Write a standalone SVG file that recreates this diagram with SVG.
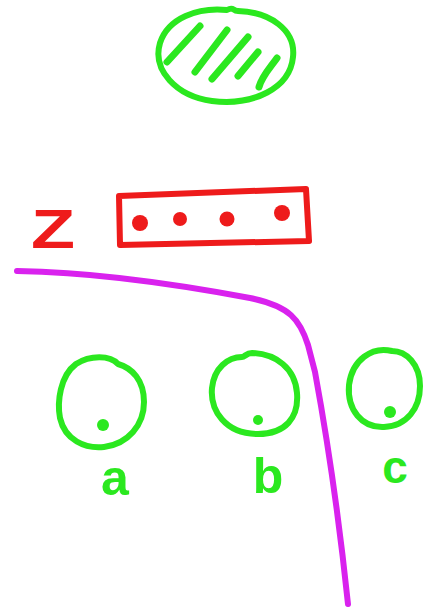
<svg xmlns="http://www.w3.org/2000/svg" width="431" height="609" viewBox="0 0 431 609">
<style>
.g{fill:none;stroke:#2be81f;stroke-width:6;stroke-linecap:round;stroke-linejoin:round}
.gh{fill:none;stroke:#2be81f;stroke-width:7;stroke-linecap:round}
.gd{fill:#2be81f}
.r{fill:none;stroke:#ee1b1b;stroke-width:6;stroke-linejoin:round}
.rd{fill:#ee1b1b}
.p{fill:none;stroke:#d922ee;stroke-width:6;stroke-linecap:round;stroke-linejoin:round}
.lbl{font-family:"Liberation Sans",Arial,sans-serif;font-weight:bold;fill:#2be81f}
</style>
<rect width="431" height="609" fill="#fff"/>
<g id="top-node">
<path class="g" d="M227,10 C198,7 168,18 160,43 C152,70 176,96 212,101 C254,106 290,88 293,57 C296,30 270,12 238,11 C232,11 234,6 227,10 Z"/>
<path class="gh" d="M200,26 L167,62"/>
<path class="gh" d="M227,30 L195,72"/>
<path class="gh" d="M248,37 L212,79"/>
<path class="gh" d="M258,52 L238,76"/>
<path class="gh" d="M277,58 C270,68 262,76 259,87"/>
</g>
<g id="z-node">
<text class="lbl" x="31" y="248" font-size="56" textLength="44" lengthAdjust="spacingAndGlyphs" style="fill:#ee1b1b">Z</text>
<path class="r" d="M119,196 L306,189 L309,241 L120,245 Z"/>
<circle class="rd" cx="140" cy="223" r="8"/>
<circle class="rd" cx="180" cy="219" r="7"/>
<circle class="rd" cx="227" cy="219" r="7.5"/>
<circle class="rd" cx="282" cy="213" r="8"/>
</g>
<g id="node-a">
<path class="g" d="M118,364 C110,355 90,355 76,364 C60,376 57,402 60,418 C65,440 85,449 104,447 C128,444 144,425 144,402 C144,380 132,368 118,364 Z"/>
<circle class="gd" cx="103" cy="425" r="6"/>
<text class="lbl" x="115" y="495" font-size="50" text-anchor="middle">a</text>
</g>
<g id="node-b">
<path class="g" d="M242,357 C228,357 214,368 212,388 C210,410 225,434 258,434 C285,434 299,418 297,393 C295,368 276,354 252,353 C246,353 245,357 242,357 Z"/>
<circle class="gd" cx="258" cy="420" r="5"/>
<text class="lbl" x="268" y="493" font-size="50" text-anchor="middle">b</text>
</g>
<g id="node-c">
<path class="g" d="M392,351 C372,346 352,360 349,385 C347,410 362,428 384,427 C407,426 420,408 420,386 C420,364 406,351 392,351 Z"/>
<circle class="gd" cx="390" cy="412" r="6"/>
<text class="lbl" x="395" y="483" font-size="46" text-anchor="middle">c</text>
</g>
<g id="connectors">
<path class="p" d="M17,271 C90,272 170,283 250,298 C290,306 300,320 308,345 L315,372 C322,410 335,480 348,604"/>
</g>
</svg>
